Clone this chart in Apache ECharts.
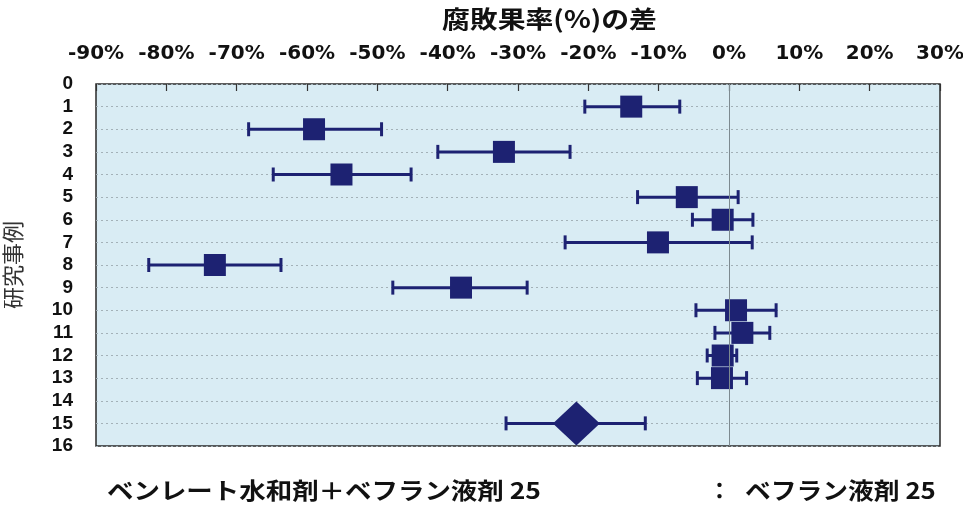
<!DOCTYPE html>
<html>
<head>
<meta charset="utf-8">
<script src="https://cdn.jsdelivr.net/npm/echarts@6/dist/echarts.min.js"></script>
<style>
  html, body { margin: 0; padding: 0; background: #fff; }
  #chart { width: 963px; height: 506px; }
</style>
</head>
<body>
<div id="chart"></div>
<script>
// study rows (15 = pooled estimate, drawn as diamond)
const studyRows = [1, 2, 3, 4, 5, 6, 7, 8, 9, 10, 11, 12, 13, 15];
const diffMean  = [-13.9, -59.0, -32.0, -55.1, -6.0, -0.9, -10.1, -73.1, -38.1, 1.0, 1.9, -0.9, -1.0, -21.7];
const diffLow   = [-20.5, -68.3, -41.4, -64.8, -13.0, -5.2, -23.3, -82.5, -47.8, -4.7, -2.0, -3.1, -4.5, -31.7];
const diffHigh  = [-7.0, -49.4, -22.6, -45.2, 1.3, 3.4, 3.3, -63.7, -28.7, 6.7, 5.8, 1.1, 2.5, -11.9];
const pooledRow = 15;

const navy = '#1d2272';
const jpFont = '"Noto Sans CJK JP", sans-serif';

const chart = echarts.init(document.getElementById('chart'));

const barData = studyRows.map((r, i) => [diffLow[i], diffHigh[i], r]);
const pointData = studyRows.map((r, i) => ({
  value: [diffMean[i], r],
  symbol: r === pooledRow ? 'diamond' : 'rect',
  symbolSize: r === pooledRow ? [47, 44] : 22
}));

chart.setOption({
  animation: false,
  grid: {
    left: 96, right: 23, top: 84, bottom: 60,
    outerBoundsMode: 'none',
    containLabel: false,
    show: true,
    backgroundColor: '#d9ecf4',
    borderColor: '#2a2a2a',
    borderWidth: 1.5
  },
  xAxis: {
    type: 'value',
    position: 'top',
    min: -90, max: 30, interval: 10,
    axisLine: { show: false },
    axisTick: { show: true, inside: true, length: 7, lineStyle: { color: '#333', width: 1.2 } },
    splitLine: { show: false },
    axisLabel: {
      formatter: '{value}%',
      margin: 20,
      color: '#111',
      fontSize: 20,
      fontWeight: 'bold',
      fontFamily: '"DejaVu Sans", sans-serif'
    }
  },
  yAxis: {
    type: 'value',
    inverse: true,
    min: 0, max: 16, interval: 1,
    name: '研究事例',
    nameLocation: 'middle',
    nameRotate: 90,
    nameGap: 72,
    nameTextStyle: { fontSize: 22, color: '#333', fontFamily: jpFont },
    axisLine: { show: false },
    axisTick: { show: false },
    splitLine: { show: true, lineStyle: { color: '#a3b1b8', type: [2, 3], width: 1 } },
    axisLabel: {
      margin: 23,
      color: '#111',
      fontSize: 19,
      fontWeight: 'bold',
      fontFamily: '"Liberation Sans", Arial, sans-serif'
    }
  },
  graphic: [
    {
      type: 'text', x: 442, y: 19, scaleX: 1.16,
      style: { text: '腐敗果率(%)の差', font: 'bold 24px ' + jpFont, fill: '#111', verticalAlign: 'middle' }
    },
    {
      type: 'text', x: 107, y: 490, scaleX: 1.15,
      style: { text: 'ベンレート水和剤＋ベフラン液剤 25', font: 'bold 23px ' + jpFont, fill: '#111', verticalAlign: 'middle' }
    },
    {
      type: 'text', x: 708, y: 490,
      style: { text: '：', font: 'bold 23px ' + jpFont, fill: '#111', verticalAlign: 'middle' }
    },
    {
      type: 'text', x: 745, y: 490, scaleX: 1.12,
      style: { text: 'ベフラン液剤 25', font: 'bold 23px ' + jpFont, fill: '#111', verticalAlign: 'middle' }
    }
  ],
  series: [
    {
      type: 'custom',
      data: barData,
      z: 3,
      renderItem: function (params, api) {
        const lo = api.coord([api.value(0), api.value(2)]);
        const hi = api.coord([api.value(1), api.value(2)]);
        const cap = 7;
        const style = { stroke: navy, lineWidth: 3 };
        return {
          type: 'group',
          children: [
            { type: 'line', shape: { x1: lo[0], y1: lo[1], x2: hi[0], y2: hi[1] }, style: style },
            { type: 'line', shape: { x1: lo[0], y1: lo[1] - cap, x2: lo[0], y2: lo[1] + cap }, style: style },
            { type: 'line', shape: { x1: hi[0], y1: hi[1] - cap, x2: hi[0], y2: hi[1] + cap }, style: style }
          ]
        };
      },
      markLine: {
        silent: true,
        symbol: 'none',
        label: { show: false },
        lineStyle: { color: '#7d8a90', width: 1, type: 'solid' },
        data: [{ xAxis: 0 }]
      }
    },
    {
      type: 'scatter',
      data: pointData,
      z: 4,
      itemStyle: { color: navy, opacity: 1 }
    }
  ]
});
</script>
</body>
</html>
